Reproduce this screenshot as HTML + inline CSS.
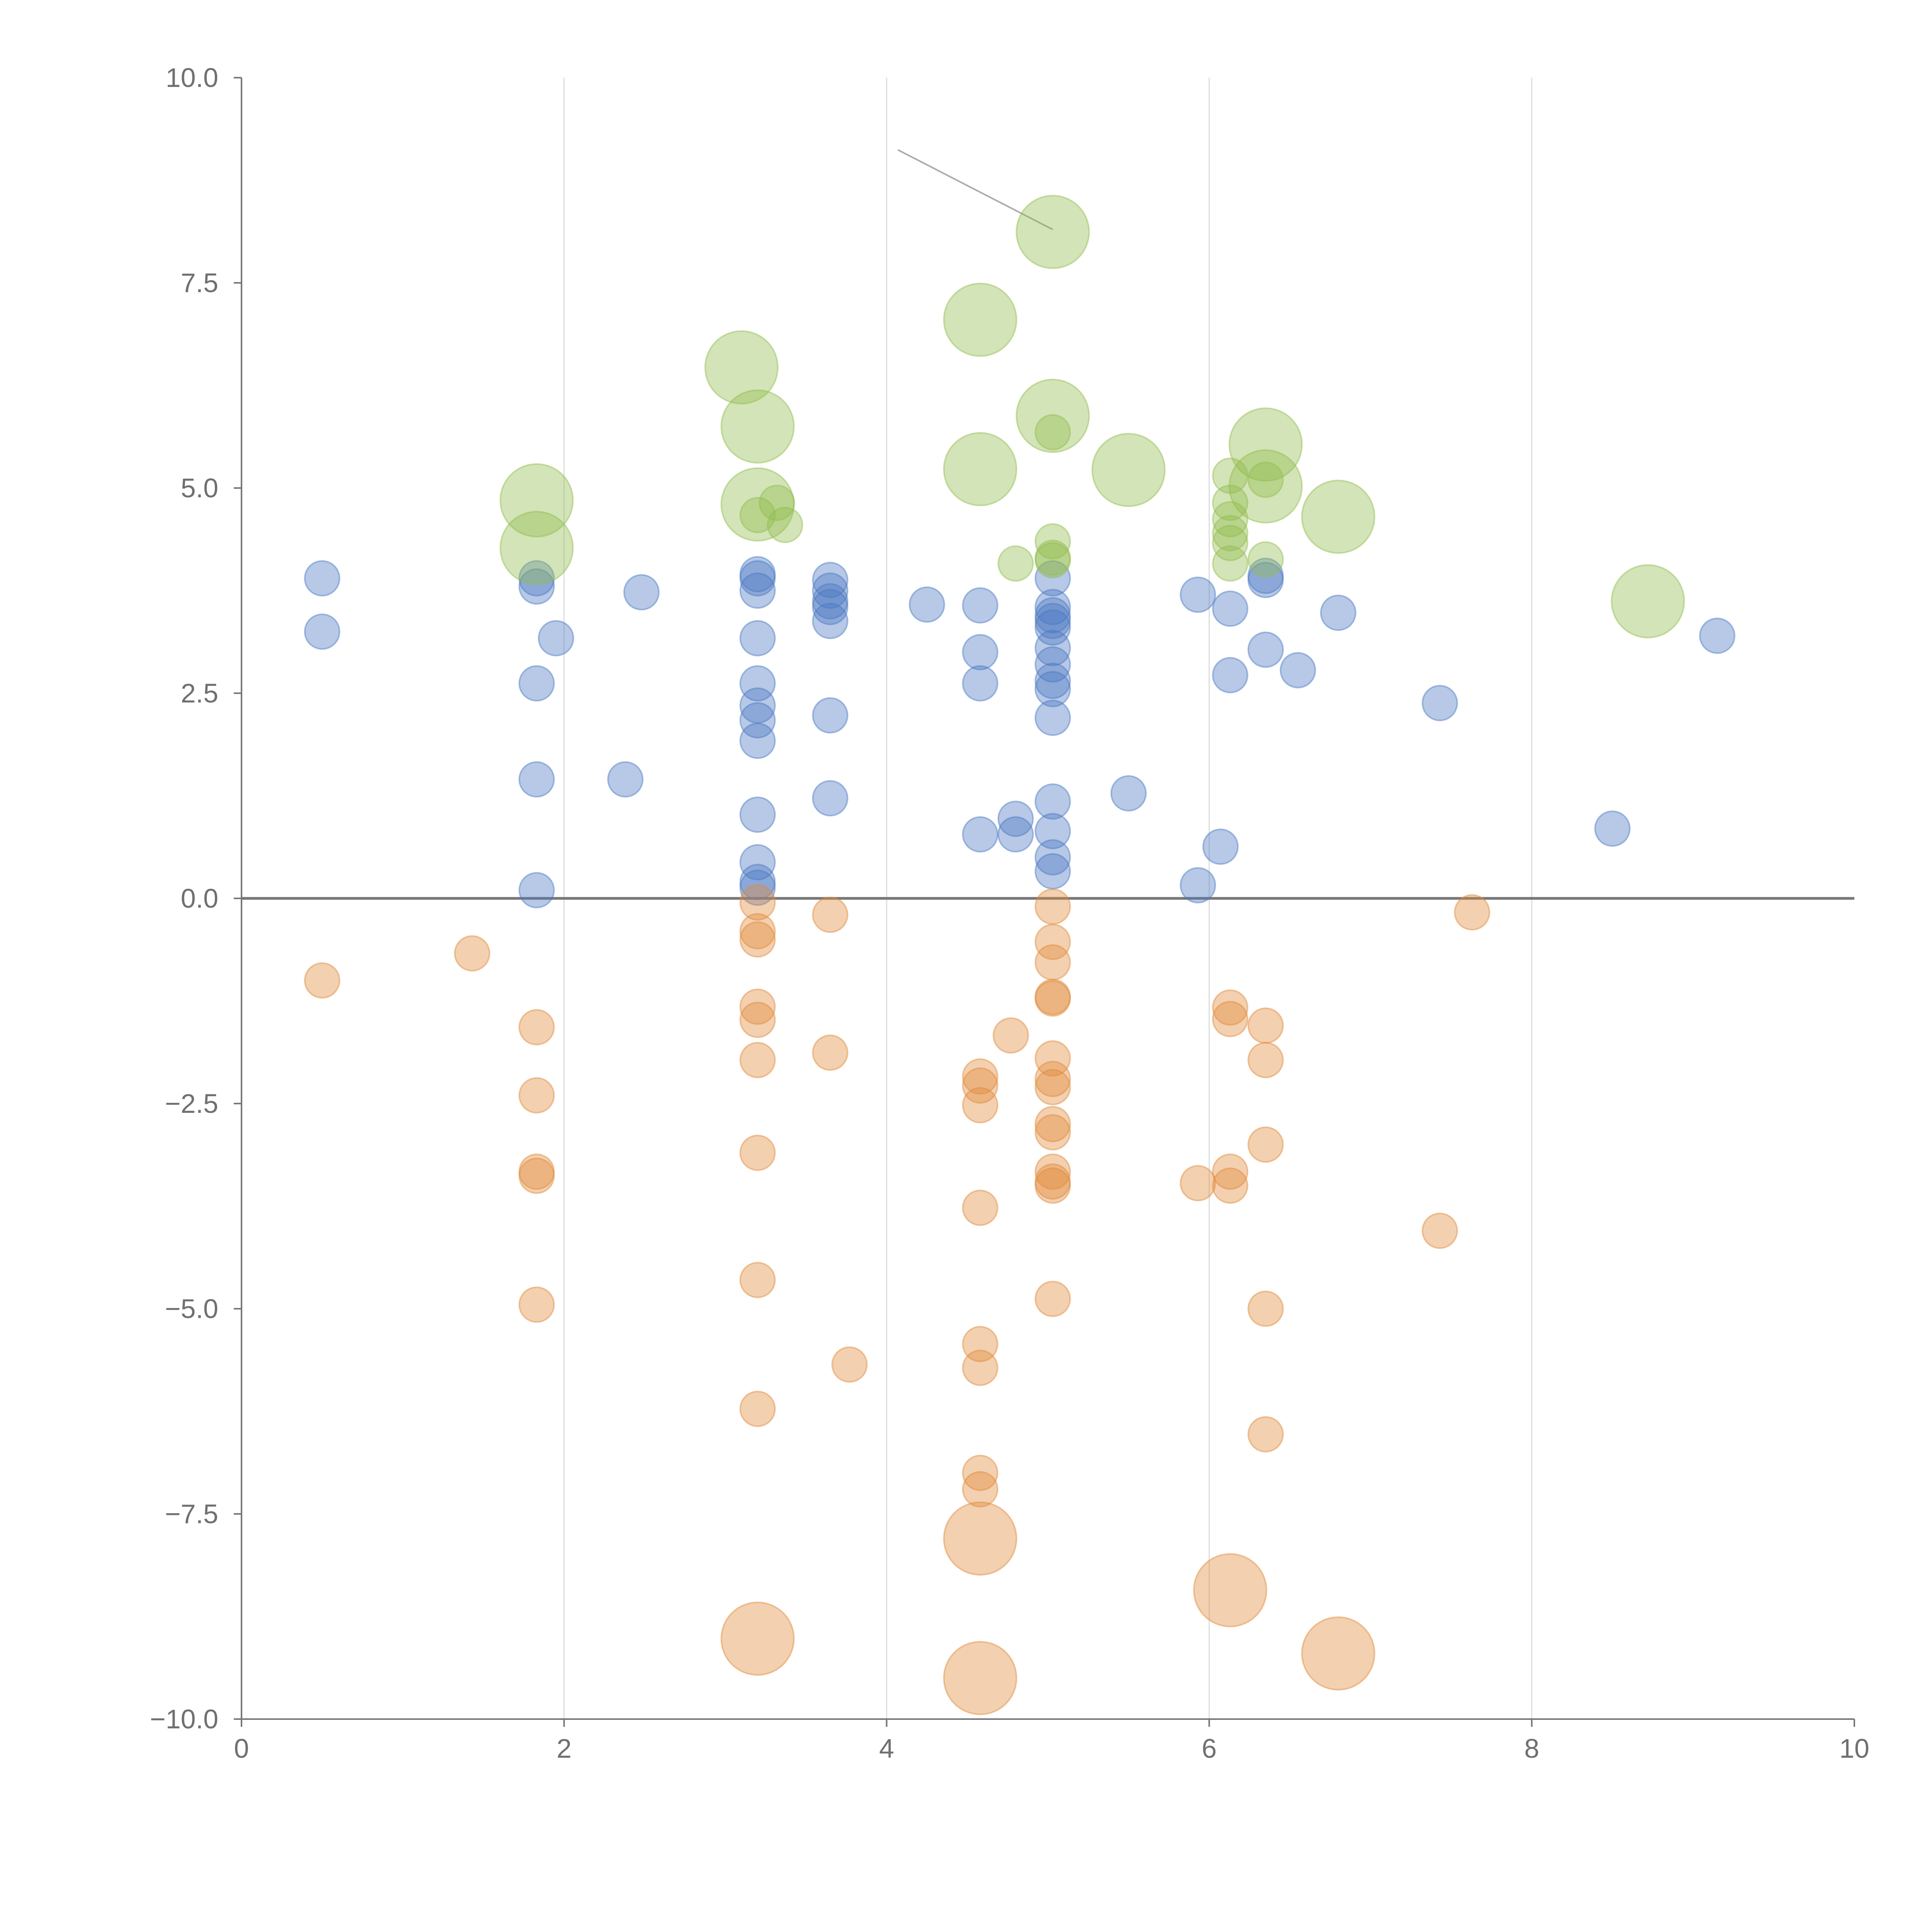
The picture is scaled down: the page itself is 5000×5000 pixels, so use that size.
<!DOCTYPE html>
<html><head><meta charset="utf-8"><style>
html,body{margin:0;padding:0;background:#fff;width:5000px;height:5000px;overflow:hidden}
svg{display:block}
text{font-family:"Liberation Sans",Arial,sans-serif;fill:#707070;font-size:70px}
</style></head><body>
<svg id="chart" width="5000" height="5000" viewBox="0 0 5000 5000" xmlns="http://www.w3.org/2000/svg">
<g id="grid"></g>
<g id="axes"></g>
<g id="marks"></g>
</svg>
<script>
const xTicks=[0,2,4,6,8,10];
const yTicks=[10,7.5,5,2.5,0,-2.5,-5,-7.5,-10];
const yTickLabels=["10.0","7.5","5.0","2.5","0.0","\u22122.5","\u22125.0","\u22127.5","\u221210.0"];
const blueX=[0.5,0.5,1.83,1.83,1.95,1.83,1.83,1.83,2.38,2.48,3.2,3.2,3.2,3.2,3.2,3.2,3.2,3.2,3.2,3.2,3.2,3.2,3.65,3.65,3.65,3.65,3.65,3.65,3.65,4.25,4.58,4.58,4.58,4.58,4.8,4.8,5.03,5.03,5.03,5.03,5.03,5.03,5.03,5.03,5.03,5.03,5.03,5.03,5.03,5.03,5.5,5.93,5.93,6.07,6.13,6.13,6.35,6.35,6.35,6.55,6.8,7.43,8.5,9.15];
const blueY=[3.9,3.25,3.9,3.8,3.17,2.62,1.45,0.1,1.45,3.73,3.95,3.9,3.75,3.17,2.62,2.35,2.17,1.92,1.02,0.44,0.2,0.13,3.88,3.75,3.62,3.55,3.38,2.23,1.22,3.58,3.57,3.0,2.62,0.78,0.97,0.78,3.9,3.55,3.45,3.38,3.3,3.05,2.85,2.65,2.55,2.2,1.18,0.82,0.5,0.33,1.28,3.7,0.16,0.63,3.53,2.72,3.93,3.88,3.03,2.78,3.48,2.38,0.85,3.2];
const orangeX=[0.5,1.43,1.83,1.83,1.83,1.83,1.83,3.2,3.2,3.2,3.2,3.2,3.2,3.2,3.2,3.2,3.2,3.65,3.65,3.77,4.58,4.58,4.58,4.58,4.58,4.58,4.58,4.58,4.58,4.58,4.77,5.03,5.03,5.03,5.03,5.03,5.03,5.03,5.03,5.03,5.03,5.03,5.03,5.03,5.03,5.93,6.13,6.13,6.13,6.13,6.13,6.35,6.35,6.35,6.35,6.35,6.8,7.43,7.63];
const orangeY=[-1.0,-0.67,-1.57,-2.4,-3.33,-3.38,-4.95,-0.05,-0.4,-0.5,-1.32,-1.48,-1.97,-3.1,-4.65,-6.22,-9.02,-0.2,-1.88,-5.68,-2.17,-2.28,-2.52,-3.77,-5.43,-5.72,-7.0,-7.2,-7.8,-9.5,-1.67,-0.1,-0.53,-0.78,-1.2,-1.22,-1.95,-2.2,-2.3,-2.75,-2.85,-3.33,-3.45,-3.5,-4.88,-3.47,-1.33,-1.47,-3.33,-3.5,-8.43,-1.55,-1.97,-3.0,-5.0,-6.53,-9.2,-4.05,-0.17];
const orangeBig=[0,0,0,0,0,0,0,0,0,0,0,0,0,0,0,0,1,0,0,0,0,0,0,0,0,0,0,0,1,1,0,0,0,0,0,0,0,0,0,0,0,0,0,0,0,0,0,0,0,0,1,0,0,0,0,0,1,0,0];
const greenX=[1.83,1.83,3.1,3.2,3.2,3.2,3.32,3.37,5.03,4.58,5.03,5.03,4.58,5.5,4.8,5.03,5.03,5.03,6.13,6.13,6.13,6.13,6.13,6.13,6.35,6.35,6.35,6.35,6.8,8.72];
const greenY=[4.85,4.27,6.47,5.75,4.8,4.67,4.82,4.55,8.12,7.05,5.88,5.68,5.23,5.22,4.08,4.35,4.15,4.12,5.15,4.82,4.62,4.45,4.33,4.08,5.53,5.02,5.1,4.13,4.65,3.62];
const greenBig=[1,1,1,1,1,0,0,0,1,1,1,0,1,1,0,0,0,0,0,0,0,0,0,0,1,1,0,0,1,1];

const NS="http://www.w3.org/2000/svg";
const X0=625,X1=4799,YT=201,YB=4449;
const sx=v=>X0+(v-0)/(10-0)*(X1-X0);
const sy=v=>YB-(v+10)/20*(YB-YT);
function mk(tag,attrs,parent){const e=document.createElementNS(NS,tag);for(const k in attrs)e.setAttribute(k,attrs[k]);parent.appendChild(e);return e;}
const grid=document.getElementById('grid'),axes=document.getElementById('axes'),marks=document.getElementById('marks');
xTicks.forEach(t=>{if(t>0&&t<10){const l=mk('line',{x1:sx(t),x2:sx(t),y1:YT,y2:YB,stroke:'#ddd','stroke-width':3},grid);

}});
const ya=mk('line',{x1:X0,x2:X0,y1:YT,y2:YB,stroke:'#777','stroke-width':4},axes);


const xa=mk('line',{x1:X0,x2:X1,y1:YB,y2:YB,stroke:'#777','stroke-width':4},axes);


xTicks.forEach(t=>{mk('line',{x1:sx(t),x2:sx(t),y1:YB,y2:YB+20,stroke:'#777','stroke-width':4},axes);
const tx=mk('text',{x:sx(t),y:YB+100,'text-anchor':'middle'},axes);tx.textContent=t;

});
yTicks.forEach((t,i)=>{mk('line',{x1:X0-20,x2:X0,y1:sy(t),y2:sy(t),stroke:'#777','stroke-width':4},axes);
const tx=mk('text',{x:X0-60,y:sy(t)+24,'text-anchor':'end'},axes);tx.textContent=yTickLabels[i];

});
function series(xs,ys,big,fill,name){xs.forEach((x,i)=>{const r=big&&big[i]?94:45;
const c=mk('circle',{cx:sx(x),cy:sy(ys[i]),r:r,fill:fill,'fill-opacity':0.4,stroke:fill,'stroke-opacity':0.45,'stroke-width':4},marks);

});}
series(blueX,blueY,null,'#4a78c2','blue-point');
series(orangeX,orangeY,orangeBig,'#e0893a','orange-point');
series(greenX,greenY,greenBig,'#92bc4e','green-point');
const zl=mk('line',{x1:X0,x2:X1,y1:sy(0),y2:sy(0),stroke:'#777','stroke-width':7},axes);


const an=mk('line',{x1:sx(4.07),y1:sy(9.12),x2:sx(5.03),y2:sy(8.15),stroke:'#aaa','stroke-width':4},axes);


</script>
</body></html>
